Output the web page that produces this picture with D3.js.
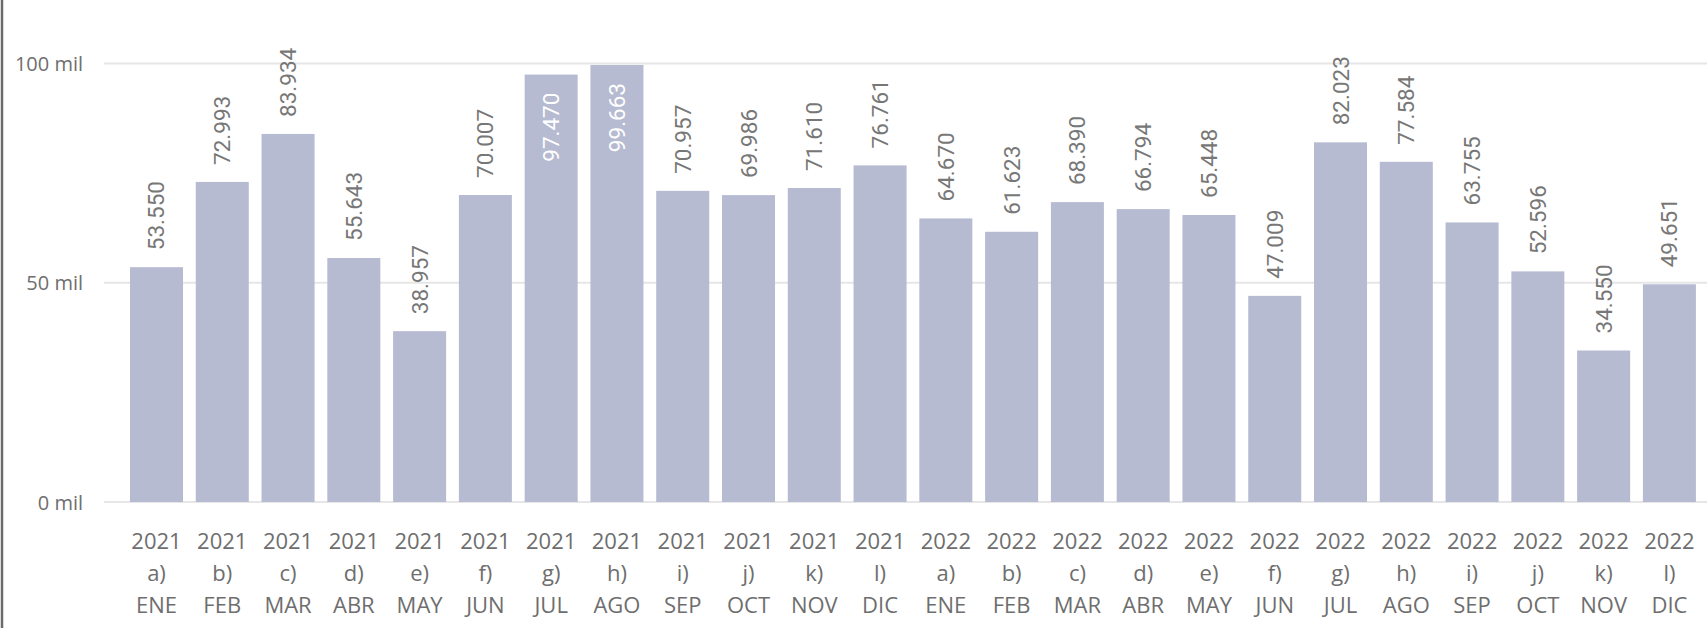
<!DOCTYPE html>
<html>
<head>
<meta charset="utf-8">
<script src="https://cdn.jsdelivr.net/npm/d3@7"></script>
<style>
  html, body { margin: 0; padding: 0; background: #ffffff; }
  svg { display: block; }
</style>
</head>
<body>
<svg id="chart" width="1707" height="628"></svg>
<script>
const years = ["2021","2021","2021","2021","2021","2021","2021","2021","2021","2021","2021","2021",
               "2022","2022","2022","2022","2022","2022","2022","2022","2022","2022","2022","2022"];
const letters = ["a)","b)","c)","d)","e)","f)","g)","h)","i)","j)","k)","l)",
                 "a)","b)","c)","d)","e)","f)","g)","h)","i)","j)","k)","l)"];
const months = ["ENE","FEB","MAR","ABR","MAY","JUN","JUL","AGO","SEP","OCT","NOV","DIC",
                "ENE","FEB","MAR","ABR","MAY","JUN","JUL","AGO","SEP","OCT","NOV","DIC"];
const values = [53550, 72993, 83934, 55643, 38957, 70007, 97470, 99663, 70957, 69986, 71610, 76761,
                64670, 61623, 68390, 66794, 65448, 47009, 82023, 77584, 63755, 52596, 34550, 49651];
const yTicks = [0, 50000, 100000];
const yTickLabels = ["0 mil", "50 mil", "100 mil"];

const W = 1707, H = 628;
const svg = d3.select("#chart");
const keys = values.map((v, i) => i);

const x = d3.scaleBand().domain(keys).range([123.6, 1702.3]).paddingInner(0.194).paddingOuter(0.097);
const y = d3.scaleLinear().domain([0, 100000]).range([502, 63.5]);

const loc = d3.formatLocale({decimal: ",", thousands: ".", grouping: [3], currency: ["", "€"]});
const fmt = loc.format(",d");

const axisFont = "'Open Sans', 'Segoe UI', sans-serif";
const gray = "#6e6e6e";
const labelFont = "Roboto, sans-serif";
const labelSize = 22.5;

// left border
svg.append("line").attr("x1", 2).attr("x2", 2).attr("y1", 0).attr("y2", H)
  .attr("stroke", "#6b6b6b").attr("stroke-width", 2.5);

// gridlines
svg.append("g").selectAll("line").data(yTicks).join("line")
  .attr("x1", 104).attr("x2", W)
  .attr("y1", d => y(d)).attr("y2", d => y(d))
  .attr("stroke", "#e6e6e6").attr("stroke-width", 2);

// y labels
svg.append("g").selectAll("text").data(yTicks).join("text")
  .attr("x", 83).attr("y", d => y(d))
  .attr("text-anchor", "end").attr("dominant-baseline", "central")
  .attr("font-family", axisFont).attr("font-size", 20).attr("fill", gray)
  .text((d, i) => yTickLabels[i]);

// bars
svg.append("g").selectAll("rect").data(keys).join("rect")
  .attr("x", i => x(i)).attr("width", x.bandwidth())
  .attr("y", i => y(values[i])).attr("height", i => y(0) - y(values[i]))
  .attr("fill", "#b6bbd1");

// data labels
const gap = 17;
const lbl = svg.append("g").selectAll("text").data(keys).join("text")
  .attr("font-family", labelFont).attr("font-size", labelSize)
  .attr("dominant-baseline", "central")
  .text(i => fmt(values[i]));

lbl.each(function(i) {
  const t = d3.select(this);
  const len = this.getComputedTextLength();
  const cx = x(i) + x.bandwidth() / 2;
  const top = y(values[i]);
  if (top - gap - len < 25) {
    t.attr("text-anchor", "end").attr("fill", "#ffffff")
     .attr("transform", `translate(${cx},${top + 18}) rotate(-90)`);
  } else {
    t.attr("text-anchor", "start").attr("fill", "#777777")
     .attr("transform", `translate(${cx},${top - gap}) rotate(-90)`);
  }
});

// x labels
const xl = svg.append("g").selectAll("text").data(keys).join("text")
  .attr("text-anchor", "middle")
  .attr("font-family", axisFont).attr("font-size", 22).attr("fill", gray)
  .attr("x", i => x(i) + x.bandwidth() / 2);
xl.append("tspan").attr("x", i => x(i) + x.bandwidth() / 2).attr("y", 549).text(i => years[i]);
xl.append("tspan").attr("x", i => x(i) + x.bandwidth() / 2).attr("y", 581).text(i => letters[i]);
xl.append("tspan").attr("x", i => x(i) + x.bandwidth() / 2).attr("y", 613).text(i => months[i]);
</script>
</body>
</html>
